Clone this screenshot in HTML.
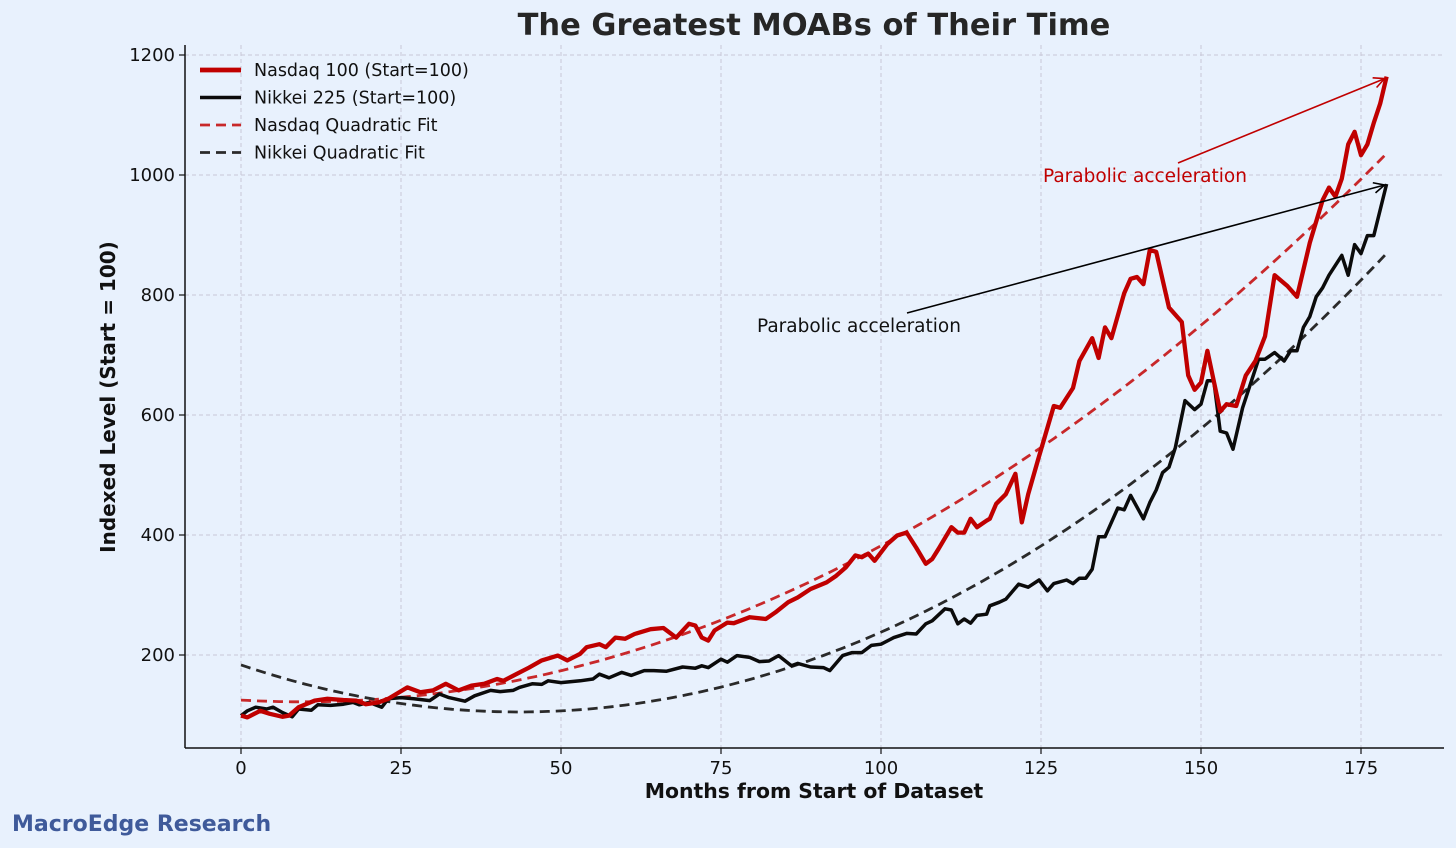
<!DOCTYPE html>
<html><head><meta charset="utf-8"><style>
html,body{margin:0;padding:0;background:#e8f1fd;}
svg{display:block;font-family:"DejaVu Sans","Liberation Sans",sans-serif;}
</style></head><body>
<svg id="chart" width="1456" height="848" viewBox="0 0 1456 848" xmlns="http://www.w3.org/2000/svg">
<rect x="0" y="0" width="1456" height="848" fill="#e8f1fd"/>
<text x="814" y="35" text-anchor="middle" font-size="30.5" font-weight="bold" fill="#262626">The Greatest MOABs of Their Time</text>
<g id="grid"></g>
<g id="fits"></g>
<g id="series"></g>
<g id="axes"></g>
<g id="annot"></g>
<g id="legend"></g>
<text transform="translate(115,397) rotate(-90)" text-anchor="middle" font-size="20" font-weight="bold" fill="#111">Indexed Level (Start = 100)</text>
<text x="814" y="798" text-anchor="middle" font-size="20.4" font-weight="bold" fill="#111">Months from Start of Dataset</text>
<text x="12" y="831" font-size="22" font-weight="bold" fill="#3f5a9a">MacroEdge Research</text>
</svg>
<script>
const xTicks = [0,25,50,75,100,125,150,175];
const yTicks = [200,400,600,800,1000,1200];
const nasdaqMonths = [0,1,3,4.5,6.5,7.5,9,11.5,13.5,16,18,19.5,21.5,23,26,28,30,32,34,36,38,40,41,43,45,47,49.5,51,53,54,56,57,58.5,60,61.5,64,66,68,70,71,72,73,74,76,77,79.5,82,83.5,85.5,87,89,91.5,93,94.5,96,97,98,99,101,102.5,104,105.5,107,108,109,111,112,113,114,115,116.5,117,118,119.5,121,122,123,124.5,127,128,130,131,133,134,135,136,138,139,140,141,142,143,145,147,148,149,150,151,153,154,155.5,157,158.5,160,161.5,163.5,165,167,169,170,171,172,173,174,175,176,177,178,179];
const nasdaqValues = [99,96,107,102,97,99,113,124,127,125,124,118,121,127,146,138,141,152,141,149,152,160,157,168,179,191,199,191,202,213,218,213,229,227,235,243,245,229,252,249,229,224,241,254,253,263,260,271,288,296,310,321,332,346,366,363,369,357,385,399,404,379,352,360,377,413,404,404,427,413,424,427,452,468,502,421,468,524,615,612,645,690,728,695,746,728,803,827,830,818,875,872,779,755,666,642,654,707,606,618,615,666,690,731,833,815,797,887,958,979,964,994,1051,1072,1033,1051,1087,1119,1164];
const nikkeiMonths = [0,1,2.3,4,5,6.5,8,9,11,12,14,16,17.5,18.5,20,22,23,25,27,29.5,31,32.5,35,36.5,39,40.5,42.5,43.5,45.5,47,48,50,53,55,56,57.5,59.5,61,63,64.5,66.5,69,71,72,73,75,76,77.5,79.5,81,82.5,84,86,87,89,91,92,94,95.5,97,98.5,100,102,104,105.5,107,108,110,111,112,113,114,115,116.5,117,118.5,119.5,121.5,123,124.7,126,127,129,130,131,132,133,134,135,137,138,139,141,142,143,144,145,146,147.5,149,150,151,152,153,154,155,156.5,159,160,161.5,163,164,165,166,167,168,169,170,172,173,174,175,176,177,179];
const nikkeiValues = [99,107,113,110,113,104,97,110,108,117,116,118,121,117,121,113,127,129,127,124,135,129,123,132,141,139,141,146,152,151,157,154,157,160,168,162,171,166,174,174,173,180,178,182,179,193,188,199,196,189,190,199,182,186,180,179,174,199,204,204,216,218,229,236,235,252,257,277,275,252,260,253,266,268,282,288,293,318,313,325,307,319,325,319,328,328,343,397,397,445,442,466,427,454,475,504,513,546,624,609,618,657,657,573,570,543,612,693,693,704,690,707,707,746,764,797,812,833,866,833,884,869,899,899,985];

const NS="http://www.w3.org/2000/svg";
const L=185,R=1444,T=45,B=748;
function xs(m){return 241+m*6.4;}
function ys(v){return 775-v*0.6;}
function mk(tag,attrs,parent){const e=document.createElementNS(NS,tag);for(const k in attrs)e.setAttribute(k,attrs[k]);parent.appendChild(e);return e;}
const grid=document.getElementById('grid'),axes=document.getElementById('axes');
xTicks.forEach(t=>{
  const g=mk('line',{x1:xs(t),x2:xs(t),y1:T,y2:B,stroke:'#c8c8d8','stroke-width':1,'stroke-dasharray':'4,3'},grid);
  
  
  const tk=mk('line',{x1:xs(t),x2:xs(t),y1:B,y2:B+6,stroke:'#111','stroke-width':1.2},axes);
  
  
  const lb=mk('text',{x:xs(t),y:B+26,'text-anchor':'middle','font-size':18,fill:'#111'},axes);
  lb.textContent=t;
  
  
});
yTicks.forEach(t=>{
  const g=mk('line',{x1:L,x2:R,y1:ys(t),y2:ys(t),stroke:'#c8c8d8','stroke-width':1,'stroke-dasharray':'4,3'},grid);
  
  
  const tk=mk('line',{x1:L-6,x2:L,y1:ys(t),y2:ys(t),stroke:'#111','stroke-width':1.2},axes);
  
  
  const lb=mk('text',{x:L-10,y:ys(t)+6,'text-anchor':'end','font-size':18,fill:'#111'},axes);
  lb.textContent=t;
  
  
});
const sp1=mk('line',{x1:L,x2:L,y1:T,y2:B,stroke:'#111','stroke-width':1.5},axes);


const sp2=mk('line',{x1:L,x2:R,y1:B,y2:B,stroke:'#111','stroke-width':1.5},axes);



function pathD(ms,vs){return ms.map((m,i)=>(i?'L':'M')+xs(m).toFixed(1)+','+ys(vs[i]).toFixed(1)).join(' ');}
function monthly(ms,vs){const out=[];let j=0;for(let m=0;m<=179;m++){while(j<ms.length-2&&ms[j+1]<m)j++;const t=(m-ms[j])/(ms[j+1]-ms[j]);out.push(vs[j]+(vs[j+1]-vs[j])*Math.max(0,Math.min(1,t)));}return out;}
function quadFit(y){let S=[0,0,0,0,0],Sy=[0,0,0];y.forEach((v,x)=>{let p=1;for(let k=0;k<5;k++){S[k]+=p;if(k<3)Sy[k]+=v*p;p*=x;}});
  const A=[[S[0],S[1],S[2],Sy[0]],[S[1],S[2],S[3],Sy[1]],[S[2],S[3],S[4],Sy[2]]];
  for(let i=0;i<3;i++){for(let k=i+1;k<3;k++){const f=A[k][i]/A[i][i];for(let c=i;c<4;c++)A[k][c]-=f*A[i][c];}}
  const c=[0,0,0];for(let i=2;i>=0;i--){let s=A[i][3];for(let k=i+1;k<3;k++)s-=A[i][k]*c[k];c[i]=s/A[i][i];}return c;}
const fitsG=document.getElementById('fits'),serG=document.getElementById('series');
function drawFit(ms,vs,color,name){const c=quadFit(monthly(ms,vs));const fm=[],fv=[];for(let m=0;m<=179;m++){fm.push(m);fv.push(c[0]+c[1]*m+c[2]*m*m);}
  const p=mk('path',{d:pathD(fm,fv),fill:'none',stroke:color,'stroke-width':2.8,'stroke-dasharray':'10,6'},fitsG);
  
  }
drawFit(nasdaqMonths,nasdaqValues,'#c8282a','nasdaq-quadratic-fit');
drawFit(nikkeiMonths,nikkeiValues,'#2a2a2a','nikkei-quadratic-fit');
const pn=mk('path',{d:pathD(nikkeiMonths,nikkeiValues),fill:'none',stroke:'#0b0b0b','stroke-width':3.5,'stroke-linejoin':'round'},serG);


const pq=mk('path',{d:pathD(nasdaqMonths,nasdaqValues),fill:'none',stroke:'#c00000','stroke-width':4.3,'stroke-linejoin':'round'},serG);



const an=document.getElementById('annot');
function arrow(x1,y1,x2,y2,color,name){const l=mk('line',{x1,y1,x2,y2,stroke:color,'stroke-width':1.6},an);
  
  
  const a=Math.atan2(y2-y1,x2-x1),h=12;
  const p=mk('path',{d:`M${x2-h*Math.cos(a-0.45)},${y2-h*Math.sin(a-0.45)} L${x2},${y2} L${x2-h*Math.cos(a+0.45)},${y2-h*Math.sin(a+0.45)}`,fill:'none',stroke:color,'stroke-width':1.6},an);
  
  }
const nqL=nasdaqValues.length-1,nkL=nikkeiValues.length-1;
arrow(1178,163,xs(nasdaqMonths[nqL])-2,ys(nasdaqValues[nqL])+2,'#c00000','nasdaq-annotation-arrow');
arrow(907,313,xs(nikkeiMonths[nkL])-2,ys(nikkeiValues[nkL])+1,'#000','nikkei-annotation-arrow');
const t1=mk('text',{x:1043,y:182,'font-size':18.5,fill:'#c00000'},an);
t1.textContent='Parabolic acceleration';


const t2=mk('text',{x:757,y:332,'font-size':18.5,fill:'#111'},an);
t2.textContent='Parabolic acceleration';



const lg=document.getElementById('legend');
const entries=[['Nasdaq 100 (Start=100)','#c00000',4.8,null,'legend-nasdaq-100'],['Nikkei 225 (Start=100)','#0b0b0b',3.5,null,'legend-nikkei-225'],['Nasdaq Quadratic Fit','#c8282a',2.8,'10,6','legend-nasdaq-fit'],['Nikkei Quadratic Fit','#2a2a2a',2.8,'10,6','legend-nikkei-fit']];
entries.forEach((e,i)=>{const y=70+i*27.5;
  const ln=mk('line',{x1:200,x2:241,y1:y,y2:y,stroke:e[1],'stroke-width':e[2]},lg);
  if(e[3])ln.setAttribute('stroke-dasharray',e[3]);
  
  
  const tx=mk('text',{x:254,y:y+6,'font-size':17.5,fill:'#111'},lg);
  tx.textContent=e[0];
  
  });
</script>
</body></html>
